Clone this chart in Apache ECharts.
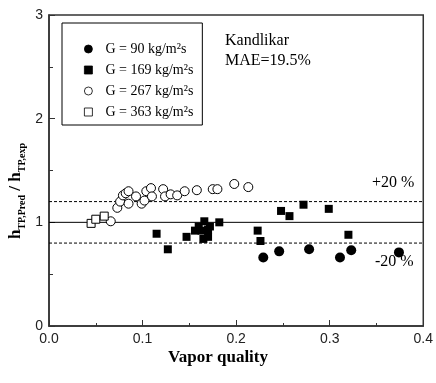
<!DOCTYPE html>
<html><head><meta charset="utf-8">
<script src="https://cdn.jsdelivr.net/npm/echarts@6/dist/echarts.min.js"></script>
<style>html,body{margin:0;padding:0;background:#fff}#c{width:436px;height:383px}</style>
</head><body><div id="c"></div>
<script>
const xTicks = [0.0, 0.1, 0.2, 0.3, 0.4];
const yTicks = [0, 1, 2, 3];
const seriesNames = ['G = 90 kg/m²s', 'G = 169 kg/m²s', 'G = 267 kg/m²s', 'G = 363 kg/m²s'];
const g90 = [[0.229,0.66],[0.246,0.72],[0.278,0.74],[0.311,0.66],[0.323,0.73],[0.374,0.71]];
const g169 = [[0.115,0.89],[0.127,0.74],[0.147,0.86],[0.156,0.92],[0.160,0.96],[0.163,0.92],[0.166,1.01],
  [0.165,0.84],[0.170,0.93],[0.170,0.86],[0.172,0.96],[0.182,1.00],[0.223,0.92],[0.226,0.82],
  [0.248,1.11],[0.257,1.06],[0.272,1.17],[0.299,1.13],[0.320,0.88]];
const g267 = [[0.066,1.01],[0.073,1.14],[0.076,1.20],[0.079,1.26],[0.082,1.28],[0.085,1.30],[0.085,1.18],
  [0.093,1.25],[0.099,1.18],[0.102,1.21],[0.104,1.30],[0.109,1.33],[0.110,1.25],[0.122,1.32],
  [0.124,1.25],[0.130,1.27],[0.137,1.26],[0.145,1.30],[0.158,1.31],[0.175,1.32],[0.180,1.32],
  [0.198,1.37],[0.213,1.34]];
const g363 = [[0.045,0.99],[0.050,1.03],[0.059,1.06]];
const refSolid = [1.0];
const refDashed = [0.8, 1.2];
const annotations = ['Kandlikar', 'MAE=19.5%', '+20 %', '-20 %'];

const chart = echarts.init(document.getElementById('c'));
const serif = 'Liberation Serif, Times New Roman, serif';
const sans = 'Liberation Sans, Arial, sans-serif';
function hLine(y, dashed){
  return {type:'line', data:[[xTicks[0], y],[xTicks[xTicks.length-1], y]], symbol:'none', silent:true,
    lineStyle:{color:'#000', width:1, type: dashed ? [3,2] : 'solid'}, z:1};
}
const lines = refSolid.map(v=>hLine(v,false)).concat(refDashed.map(v=>hLine(v,true)));
chart.setOption({
  animation:false,
  grid:{left:49, right:9, top:15, bottom:57, show:true, borderColor:'#333', borderWidth:1.5},
  xAxis:{type:'value', min:xTicks[0], max:xTicks[xTicks.length-1], interval:0.1,
    axisLine:{show:true, onZero:false, lineStyle:{color:'#333', width:1.5}},
    axisTick:{inside:true, length:6, lineStyle:{color:'#333'}},
    minorTick:{show:true, splitNumber:2, length:3, lineStyle:{color:'#333'}},
    splitLine:{show:false},
    axisLabel:{fontFamily:sans, fontSize:14, color:'#222', margin:6, formatter:v=>v.toFixed(1)}},
  yAxis:{type:'value', min:yTicks[0], max:yTicks[yTicks.length-1], interval:1,
    axisLine:{show:true, onZero:false, lineStyle:{color:'#333', width:1.5}},
    axisTick:{inside:true, length:6, lineStyle:{color:'#333'}},
    minorTick:{show:true, splitNumber:2, length:4, lineStyle:{color:'#333'}},
    splitLine:{show:false},
    axisLabel:{fontFamily:sans, fontSize:14, color:'#222', margin:6}},
  legend:{orient:'vertical', left:62, top:23, itemWidth:8, itemHeight:8, itemGap:7,
    borderColor:'#000', borderWidth:1, padding:[19,9,6,22], backgroundColor:'#fff',
    itemStyle:{borderWidth:0.8},
    textStyle:{fontFamily:serif, fontSize:14, color:'#000', padding:[0,0,0,8]},
    data:seriesNames},
  series: lines.concat([
    {name:seriesNames[0], type:'scatter', data:g90, symbol:'circle', symbolSize:10,
      itemStyle:{color:'#000', borderColor:'#000', borderWidth:0, opacity:1}, z:3},
    {name:seriesNames[1], type:'scatter', data:g169, symbol:'rect', symbolSize:8,
      itemStyle:{color:'#000', borderColor:'#000', borderWidth:0, opacity:1}, z:3},
    {name:seriesNames[2], type:'scatter', data:g267, symbol:'circle', symbolSize:9,
      itemStyle:{color:'#fff', borderColor:'#000', borderWidth:1, opacity:1}, z:3},
    {name:seriesNames[3], type:'scatter', data:g363, symbol:'rect', symbolSize:8,
      itemStyle:{color:'#fff', borderColor:'#000', borderWidth:1, opacity:1}, z:3}
  ]),
  graphic:[
    {type:'text', left:225, top:31, style:{text:annotations[0]+'\n'+annotations[1], font:'16px '+serif, fill:'#000', lineHeight:20}},
    {type:'text', left:372, top:175, style:{text:annotations[2], font:'16px '+serif, fill:'#000'}},
    {type:'text', left:375, top:254, style:{text:annotations[3], font:'16px '+serif, fill:'#000'}},
    {type:'text', left:'center', top:349, style:{text:'Vapor quality', font:'bold 17px '+serif, fill:'#000'}},
    {type:'text', x:16, y:191, rotation:Math.PI/2,
      style:{text:'{b|h}{s|TP,Pred}{b| / h}{s|TP,exp}', align:'center', verticalAlign:'middle',
        rich:{b:{fontFamily:serif, fontWeight:'bold', fontSize:17, lineHeight:22, fill:'#000', verticalAlign:'middle'},
              s:{fontFamily:serif, fontWeight:'bold', fontSize:10, lineHeight:10, fill:'#000', verticalAlign:'bottom'}}}}
  ]
});
</script></body></html>
